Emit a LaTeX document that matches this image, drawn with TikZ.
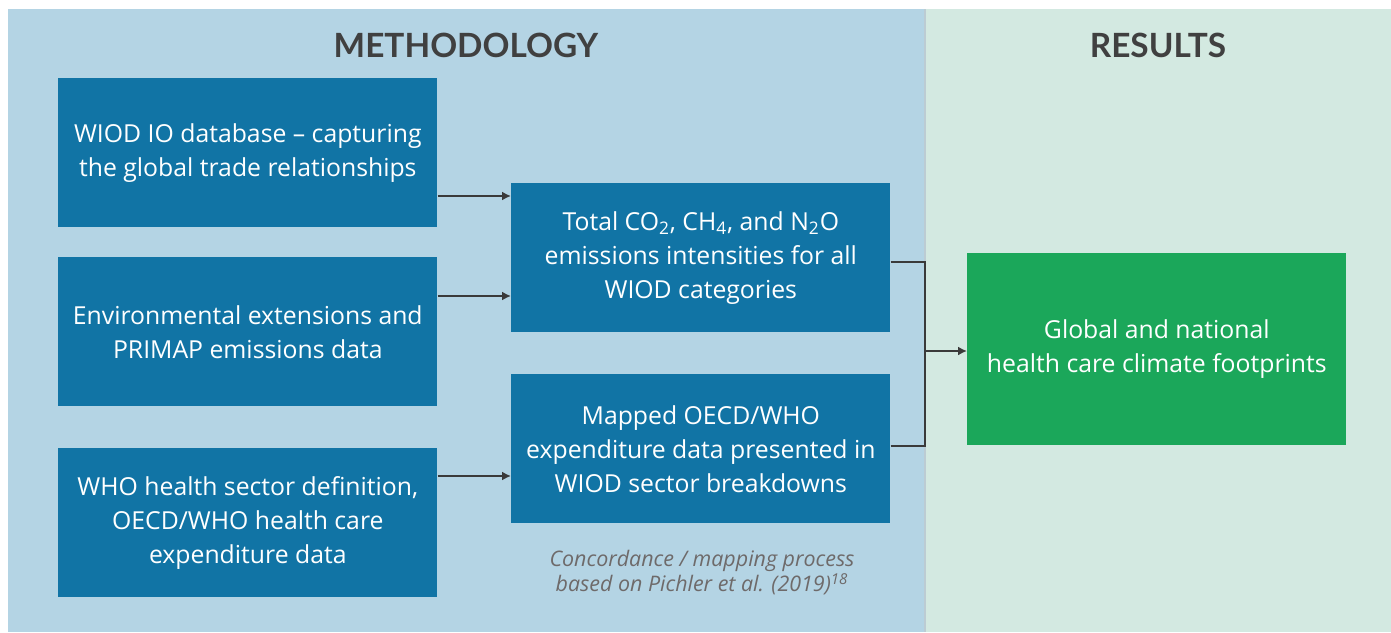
\documentclass[tikz,border=0pt]{standalone}
\usepackage{fontspec}
\setmainfont{Open Sans}
\newfontfamily\headfont{Lato}
\usetikzlibrary{arrows.meta}

\definecolor{methbg}{HTML}{B4D4E4}
\definecolor{resbg}{HTML}{D3E9E1}
\definecolor{boxblue}{HTML}{1174A5}
\definecolor{boxgreen}{HTML}{1BA75A}
\definecolor{linegray}{HTML}{3A3A3A}
\definecolor{titlegray}{HTML}{404040}
\definecolor{notegray}{HTML}{6E6A6A}

\tikzset{
  stepbox/.style={fill=boxblue, text=white, anchor=north west, align=center,
    minimum width=7.58cm, minimum height=2.98cm, inner sep=0pt,
    font=\fontsize{14.1}{19.3}\selectfont},
  resultbox/.style={stepbox, fill=boxgreen, minimum height=3.84cm},
  heading/.style={text=titlegray, font=\headfont\fontsize{19}{22}\selectfont\bfseries},
  arr/.style={draw=linegray, line width=1.1pt, -{Latex[length=5pt,width=5pt]}},
  conn/.style={draw=linegray, line width=1.1pt}
}

\begin{document}
\begin{tikzpicture}[x=0.02cm, y=-0.02cm]
      \useasboundingbox (0,0) rectangle (1391,632);

      % Panels
      \fill[methbg] (8,9) rectangle (925,632);
      \fill[resbg] (925,9) rectangle (1391,632);
      \draw[color=methbg!80!black!60, line width=0.6pt] (925,9) -- (925,632);

      % Headings
      \node[heading] (meth) at (466,45) {METHODOLOGY};
      \node[heading] (res) at (1158,45) {RESULTS};

      % Input boxes
      \node[stepbox] (wiod) at (58,78) {WIOD IO database -- capturing\\the global trade relationships};
      \node[stepbox] (env) at (58,257) {Environmental extensions and\\PRIMAP emissions data};
      \node[stepbox] (who) at (58,448) {WHO health sector definition,\\OECD/WHO health care\\expenditure data};

      % Intermediate boxes
      \node[stepbox] (total) at (511,183) {Total CO\textsubscript{2}, CH\textsubscript{4}, and N\textsubscript{2}O\\emissions intensities for all\\WIOD categories};
      \node[stepbox] (mapped) at (511,374) {Mapped OECD/WHO\\expenditure data presented in\\WIOD sector breakdowns};

      % Result box
      \node[resultbox] (foot) at (967,253) {Global and national\\health care climate footprints};

      % Note
      \node[text=notegray, align=center, font=\fontsize{12.2}{14.2}\selectfont\itshape] (note) at (702,573)
        {Concordance / mapping process\\based on Pichler et al. (2019)\textsuperscript{18}};

      % Connectors
      \draw[arr] (wiod.east |- 0,196) -- (total.west |- 0,196);
      \draw[arr] (env.east |- 0,296) -- (total.west |- 0,296);
      \draw[arr] (who.east |- 0,476) -- (mapped.west |- 0,476);
      \coordinate (join) at (925,351);
      \draw[conn] (total.east |- 0,262) -| (join);
      \draw[conn] (mapped.east |- 0,446) -| (join);
      \draw[arr] (join) -- (foot.west |- join);
\end{tikzpicture}
\end{document}
